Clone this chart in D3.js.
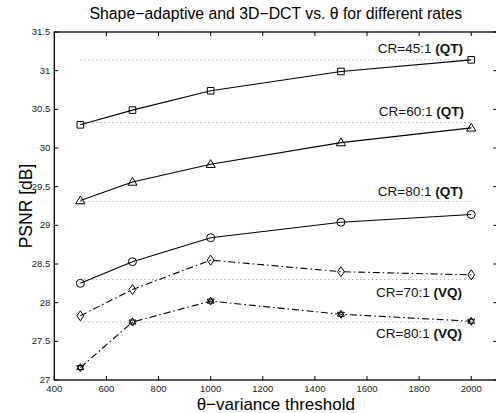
<!DOCTYPE html>
<html>
<head>
<meta charset="utf-8">
<script src="https://cdn.jsdelivr.net/npm/d3@7"></script>
<style>
  body { margin: 0; background: #fff; }
  text { font-family: "Liberation Sans", Arial, sans-serif; }
</style>
</head>
<body>
<div id="chart"></div>
<script>
// data
var thresholds = [500, 700, 1000, 1500, 2000];
var qt45 = [30.30, 30.49, 30.74, 30.99, 31.14];
var qt60 = [29.32, 29.56, 29.79, 30.07, 30.26];
var qt80 = [28.25, 28.53, 28.84, 29.04, 29.14];
var vq70 = [27.83, 28.17, 28.55, 28.40, 28.36];
var vq80 = [27.16, 27.75, 28.02, 27.85, 27.76];
// reference (dotted) levels
var refLevels = [31.14, 30.33, 29.31, 28.30, 27.75];
var labelsRate = ['CR=45:1 ', 'CR=60:1 ', 'CR=80:1 ', 'CR=70:1 ', 'CR=80:1 '];
var labelsMethod = ['(QT)', '(QT)', '(QT)', '(VQ)', '(VQ)'];
var xTicks = [400, 600, 800, 1000, 1200, 1400, 1600, 1800, 2000];
var yTicks = [27, 27.5, 28, 28.5, 29, 29.5, 30, 30.5, 31, 31.5];

var width = 496, height = 413;
var margin = {left: 54.3, top: 32, right: -1.3, bottom: 33};

var svg = d3.select('#chart').append('svg')
  .attr('width', width)
  .attr('height', height);

var x = d3.scaleLinear().domain([400, 2100]).range([margin.left, width - margin.right]);
var y = d3.scaleLinear().domain([27, 31.5]).range([height - margin.bottom, margin.top]);

// title
svg.append('text')
  .attr('x', (x(400) + x(2100)) / 2)
  .attr('y', 19)
  .attr('text-anchor', 'middle')
  .style('font-size', '15.8px')
  .text('Shape\u2212adaptive and 3D\u2212DCT vs. \u03b8 for different rates');

// axes box
var g = svg.append('g');
g.append('rect')
  .attr('x', x(400)).attr('y', y(31.5))
  .attr('width', x(2100) - x(400)).attr('height', y(27) - y(31.5))
  .attr('fill', 'none').attr('stroke', '#000').attr('stroke-width', 1.3);

// ticks (inward, on all sides) and labels
var tl = 4;
xTicks.forEach(function (t) {
  g.append('line').attr('x1', x(t)).attr('x2', x(t))
    .attr('y1', y(27)).attr('y2', y(27) - tl).attr('stroke', '#000');
  g.append('line').attr('x1', x(t)).attr('x2', x(t))
    .attr('y1', y(31.5)).attr('y2', y(31.5) + tl).attr('stroke', '#000');
  g.append('text').attr('x', x(t)).attr('y', y(27) + 12)
    .attr('text-anchor', 'middle').style('font-size', '9.5px').attr('fill', '#222')
    .text(t);
});
yTicks.forEach(function (t) {
  g.append('line').attr('x1', x(400)).attr('x2', x(400) + tl)
    .attr('y1', y(t)).attr('y2', y(t)).attr('stroke', '#000');
  g.append('line').attr('x1', x(2100)).attr('x2', x(2100) - tl)
    .attr('y1', y(t)).attr('y2', y(t)).attr('stroke', '#000');
  g.append('text').attr('x', x(400) - 4).attr('y', y(t) + 3)
    .attr('text-anchor', 'end').style('font-size', '9.5px').attr('fill', '#222')
    .text(t);
});

// axis labels
svg.append('text')
  .attr('x', (x(400) + x(2100)) / 2)
  .attr('y', 410)
  .attr('text-anchor', 'middle')
  .style('font-size', '17px')
  .text('\u03b8\u2212variance threshold');

svg.append('text')
  .attr('transform', 'translate(32,' + (y(29.25)) + ') rotate(-90)')
  .attr('text-anchor', 'middle')
  .style('font-size', '17.5px')
  .text('PSNR [dB]');

// dotted reference lines
refLevels.forEach(function (v) {
  g.append('line')
    .attr('x1', x(500)).attr('x2', x(2000))
    .attr('y1', y(v)).attr('y2', y(v))
    .attr('stroke', '#888').attr('stroke-width', 1)
    .attr('stroke-dasharray', '1,3');
});

// marker shapes
var hexagram = function (s) {
  var r = s, p = [];
  [[-90, 30, 150], [90, 210, 330]].forEach(function (tri) {
    var pts = tri.map(function (a) {
      var rad = a * Math.PI / 180;
      return [r * Math.cos(rad), r * Math.sin(rad)];
    });
    p.push('M' + pts.join('L') + 'Z');
  });
  return p.join('');
};
var markers = {
  square: function () { return 'M-3.3,-3.3H3.3V3.3H-3.3Z'; },
  triangle: function () { return 'M0,-4.6L4.6,3.2H-4.6Z'; },
  circle: function () { return 'M4,0A4,4 0 1,1 -4,0A4,4 0 1,1 4,0Z'; },
  diamond: function () { return 'M0,-5L3.4,0L0,5L-3.4,0Z'; },
  hexagram: function () { return hexagram(4); }
};

var seriesList = [
  {values: qt45, marker: 'square', dash: null},
  {values: qt60, marker: 'triangle', dash: null},
  {values: qt80, marker: 'circle', dash: null},
  {values: vq70, marker: 'diamond', dash: '7,3,1.5,3'},
  {values: vq80, marker: 'hexagram', dash: '7,3,1.5,3'}
];

var line = d3.line()
  .x(function (d) { return x(d[0]); })
  .y(function (d) { return y(d[1]); });

seriesList.forEach(function (s) {
  var pts = thresholds.map(function (t, i) { return [t, s.values[i]]; });
  g.append('path')
    .attr('d', line(pts))
    .attr('fill', 'none')
    .attr('stroke', '#000')
    .attr('stroke-width', 1.1)
    .attr('stroke-dasharray', s.dash);
  g.selectAll(null)
    .data(pts)
    .enter()
    .append('path')
    .attr('transform', function (d) { return 'translate(' + x(d[0]) + ',' + y(d[1]) + ')'; })
    .attr('d', markers[s.marker]())
    .attr('fill', 'none')
    .attr('stroke', '#000')
    .attr('stroke-width', 1);
});

// curve labels
var labelPos = [
  {right: 463, base: 53},
  {right: 464, base: 116},
  {right: 463, base: 195.5},
  {right: 462, base: 296.5},
  {right: 462, base: 338}
];
labelPos.forEach(function (p, i) {
  var t = g.append('text')
    .attr('x', p.right).attr('y', p.base)
    .attr('text-anchor', 'end')
    .style('font-size', '13.5px')
    .attr('fill', '#111');
  t.append('tspan').text(labelsRate[i]);
  t.append('tspan').style('font-weight', 'bold').text(labelsMethod[i]);
});
</script>
</body>
</html>
